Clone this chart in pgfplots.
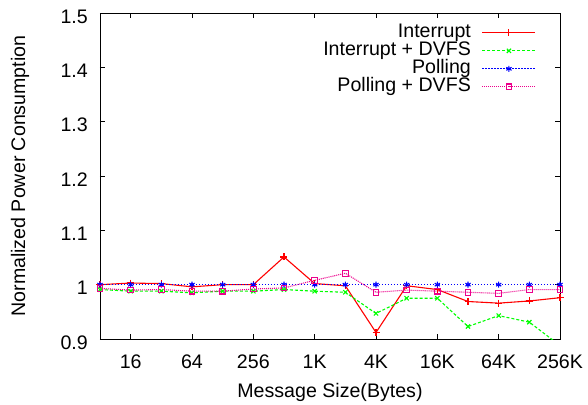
\documentclass[border=0pt]{standalone}
\usepackage{fontspec}
\setmainfont{Liberation Sans}
\usepackage{pgfplots}
\pgfplotsset{compat=1.18}
\pgfplotstableread{
idx intr intrdvfs poll polldvfs
0  1.000 0.991 1.0 0.993
1  1.003 0.988 1.0 0.990
2  1.002 0.988 1.0 0.991
3  0.996 0.985 1.0 0.988
4  1.000 0.988 1.0 0.988
5  1.000 0.988 1.0 0.992
6  1.051 0.991 1.0 0.994
7  1.002 0.988 1.0 1.008
8  0.998 0.986 1.0 1.021
9  0.912 0.947 1.0 0.986
10 0.998 0.975 1.0 0.990
11 0.991 0.975 1.0 0.988
12 0.969 0.923 1.0 0.986
13 0.966 0.943 1.0 0.984
14 0.970 0.931 1.0 0.991
15 0.976 0.888 1.0 0.991
}\datatable
\begin{document}
\fontsize{19.6bp}{23.5bp}\selectfont
\begin{tikzpicture}
\begin{axis}[
 name=ax,
 scale only axis,
 width=460bp, height=326bp,
 xmin=0, xmax=15, ymin=0.9, ymax=1.5,
 xtick={1,3,5,7,9,11,13,15},
 xticklabels={16,64,256,1K,4K,16K,64K,256K},
 ytick={0.9,1,1.1,1.2,1.3,1.4,1.5},
 yticklabels={0.9,1,1.1,1.2,1.3,1.4,1.5},
 /pgf/number format/assume math mode=true,
 tick align=inside,
 major tick length=5bp,
 tick style={black, line width=0.9bp},
 axis line style={line width=0.9bp},
 xticklabel style={yshift=-9.5bp},
 yticklabel style={xshift=-5.5bp, yshift=-3.5bp},
 xlabel={Message Size(Bytes)},
 ylabel={Normalized Power Consumption},
 xlabel style={at={(axis description cs:0.5,-0.178)}, anchor=base},
 ylabel style={at={(axis description cs:-0.174,0.5)}, anchor=center},
 legend plot pos=right,
 legend cell align=right,
 legend style={at={(axis description cs:1,1)}, anchor=north east, xshift=-24bp, yshift=-10bp, draw=none, fill=none, inner sep=0pt, outer sep=0pt, column sep=11bp, row sep=-1.6bp, nodes={inner sep=0pt, text height=0.75em, text depth=0.25em}},
 legend image code/.code={\draw[mark repeat=2, mark phase=2] plot coordinates {(0bp,0bp) (26.5bp,0bp) (53bp,0bp)};},
]
\addplot[red, line width=1.1bp, mark=+, mark size=3.5bp, mark options={solid}] table[x=idx, y=intr] {\datatable};
\addlegendentry{Interrupt}
\addplot[green, line width=1.1bp, dash pattern=on 3bp off 2bp, mark=x, mark size=3bp, mark options={solid}] table[x=idx, y=intrdvfs] {\datatable};
\addlegendentry{Interrupt + DVFS}
\addplot[blue, line width=1.1bp, dash pattern=on 1.5bp off 1.5bp, mark=asterisk, mark size=3bp, mark options={solid}] table[x=idx, y=poll] {\datatable};
\addlegendentry{Polling}
\addplot[magenta, line width=1.1bp, dash pattern=on 1bp off 1bp, mark=square, mark size=2.8bp, mark options={solid}] table[x=idx, y=polldvfs] {\datatable};
\addlegendentry{Polling + DVFS}
\end{axis}
\pgfresetboundingbox
\path[use as bounding box] ([shift={(-100bp,-66bp)}]ax.south west) rectangle ([shift={(28bp,13bp)}]ax.north east);
\end{tikzpicture}
\end{document}
